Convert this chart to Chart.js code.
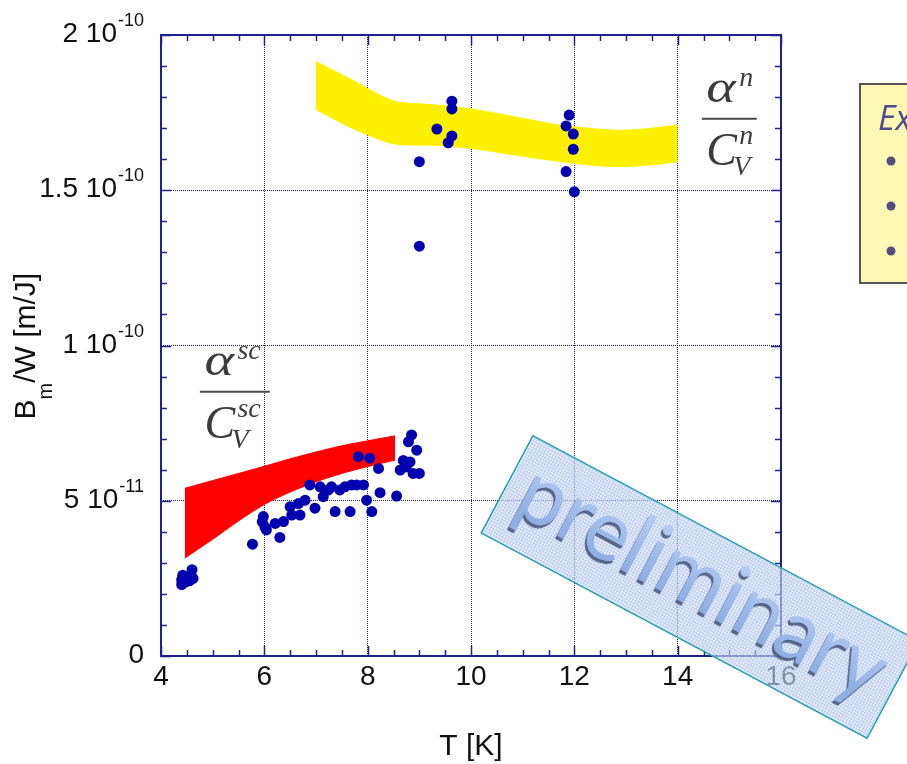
<!DOCTYPE html>
<html>
<head>
<meta charset="utf-8">
<script src="https://cdn.jsdelivr.net/npm/chart.js@4.4.1/dist/chart.umd.min.js"></script>
<style>
  html, body { margin: 0; background: #fff; }
  #graph { display: block; }
</style>
</head>
<body>
<canvas id="graph" width="907" height="764"></canvas>
<script>
// normal state band (alpha^n / C_V^n), T in K, B_m/W in m/J
const normalT     = [7.0, 7.7, 8.5, 9.3, 10.0, 10.9, 11.7, 12.4, 12.9, 13.5, 14.0];
const normalUpper = [1.915e-10, 1.855e-10, 1.788e-10, 1.775e-10, 1.762e-10, 1.735e-10, 1.71e-10, 1.698e-10, 1.693e-10, 1.70e-10, 1.71e-10];
const normalLower = [1.76e-10, 1.70e-10, 1.65e-10, 1.645e-10, 1.635e-10, 1.612e-10, 1.593e-10, 1.58e-10, 1.576e-10, 1.582e-10, 1.592e-10];

// superconducting band (alpha^sc / C_V^sc)
const scT     = [4.46, 5.0, 5.5, 6.0, 6.5, 7.0, 7.5, 8.0, 8.53];
const scUpper = [5.40e-11, 5.65e-11, 5.88e-11, 6.11e-11, 6.35e-11, 6.57e-11, 6.77e-11, 6.93e-11, 7.09e-11];
const scLower = [3.15e-11, 3.76e-11, 4.35e-11, 4.88e-11, 5.28e-11, 5.61e-11, 5.88e-11, 6.10e-11, 6.31e-11];

// measured points
const measT = [
  4.40, 4.40, 4.42, 4.47, 4.50, 4.55, 4.58, 4.60, 4.62,
  5.77, 5.96, 5.98, 6.01, 6.04, 6.21, 6.30, 6.37,
  6.50, 6.53, 6.66, 6.69, 6.79, 6.88, 6.98, 7.08, 7.14, 7.24, 7.30, 7.37,
  7.46, 7.56, 7.66, 7.69, 7.79, 7.82, 7.92, 7.98, 8.04, 8.08, 8.21, 8.24,
  8.56, 8.63, 8.69, 8.75, 8.79, 8.82, 8.85, 8.88, 8.95, 9.00,
  9.00, 9.00, 9.34, 9.63, 9.63, 9.63, 9.56,
  11.90, 11.84, 11.98, 11.98, 11.84, 12.00
];
const measB = [
  2.30e-11, 2.45e-11, 2.60e-11, 2.38e-11, 2.52e-11, 2.42e-11, 2.62e-11, 2.78e-11, 2.50e-11,
  3.60e-11, 4.33e-11, 4.49e-11, 4.16e-11, 4.06e-11, 4.27e-11, 3.82e-11, 4.33e-11,
  4.81e-11, 4.54e-11, 4.91e-11, 4.54e-11, 5.02e-11, 5.51e-11, 4.76e-11, 5.45e-11, 5.13e-11, 5.35e-11, 5.45e-11, 4.65e-11,
  5.35e-11, 5.45e-11, 4.65e-11, 5.51e-11, 5.51e-11, 6.42e-11, 5.51e-11, 5.02e-11, 6.37e-11, 4.65e-11, 6.04e-11, 5.26e-11,
  5.15e-11, 5.99e-11, 6.30e-11, 6.09e-11, 6.90e-11, 6.25e-11, 7.12e-11, 5.88e-11, 6.63e-11, 5.88e-11,
  1.592e-10, 1.320e-10, 1.697e-10, 1.787e-10, 1.762e-10, 1.675e-10, 1.653e-10,
  1.742e-10, 1.707e-10, 1.681e-10, 1.632e-10, 1.560e-10, 1.495e-10
];

// axis ticks
const xTickValues = [4, 6, 8, 10, 12, 14, 16];
const yTickValues = [0, 5e-11, 1e-10, 1.5e-10, 2e-10];
const yTickMantissa = ['0', '5 10', '1 10', '1.5 10', '2 10'];
const yTickExponent = ['', '-11', '-10', '-10', '-10'];

const NAVY = '#20208a';
const SANS = '"Liberation Sans", Arial, sans-serif';
const SERIF = '"Liberation Serif", "Times New Roman", serif';

function xy(xs, ys) {
  return xs.map((x, i) => ({x: x, y: ys[i]}));
}

function drawFraction(ctx, cx, barY, barW, sup) {
  const left = cx - barW / 2 + 4.5;
  ctx.save();
  ctx.fillStyle = '#3c3c3c';
  ctx.strokeStyle = '#4a4a4a';
  ctx.lineWidth = 2;
  ctx.beginPath();
  ctx.moveTo(cx - barW / 2, barY);
  ctx.lineTo(cx + barW / 2, barY);
  ctx.stroke();
  ctx.textAlign = 'left';
  ctx.textBaseline = 'alphabetic';
  ctx.font = 'italic 46px ' + SERIF;
  // the alpha glyph is a bit narrow in this face, widen it
  ctx.save();
  ctx.translate(left, barY - 17);
  ctx.scale(1.22, 1);
  ctx.fillText('\u03b1', 0, 0);
  ctx.restore();
  ctx.fillText('C', left, barY + 46);
  ctx.font = 'italic 28px ' + SERIF;
  ctx.fillText(sup, left + 33, barY - 33);
  ctx.fillText(sup, left + 33, barY + 25);
  ctx.fillText('V', left + 27, barY + 56);
  ctx.restore();
}

function drawStamp(ctx) {
  const cx = 700, cy = 587, w = 437, h = 110;
  const tile = document.createElement('canvas');
  tile.width = 3; tile.height = 3;
  const tc = tile.getContext('2d');
  tc.fillStyle = 'rgba(214,226,248,0.55)';
  tc.fillRect(0, 0, 3, 3);
  tc.fillStyle = 'rgba(150,180,230,0.45)';
  tc.fillRect(0, 0, 3, 1);
  tc.fillRect(0, 0, 1, 3);

  ctx.save();
  ctx.translate(cx, cy);
  ctx.rotate(28 * Math.PI / 180);
  ctx.fillStyle = ctx.createPattern(tile, 'repeat');
  ctx.fillRect(-w / 2, -h / 2, w, h);
  ctx.strokeStyle = '#2a9db3';
  ctx.lineWidth = 1.5;
  ctx.strokeRect(-w / 2, -h / 2, w, h);

  ctx.font = '86px Lato, ' + SANS;
  ctx.textAlign = 'center';
  ctx.textBaseline = 'alphabetic';
  const tw = ctx.measureText('preliminary').width;
  ctx.scale(405 / tw, 1);
  ctx.shadowColor = 'rgba(80,95,130,0.95)';
  ctx.shadowOffsetX = -2;
  ctx.shadowOffsetY = 3;
  ctx.shadowBlur = 1;
  const grad = ctx.createLinearGradient(0, -40, 0, 20);
  grad.addColorStop(0, '#b4cdf2');
  grad.addColorStop(1, '#8eaee2');
  ctx.fillStyle = grad;
  ctx.fillText('preliminary', 0, 22);
  ctx.restore();
}

const axesPlugin = {
  id: 'axesPlugin',
  afterDatasetsDraw(chart) {
    const {ctx, chartArea: a, scales: {x, y}} = chart;
    ctx.save();
    ctx.strokeStyle = NAVY;
    ctx.lineWidth = 2;
    ctx.strokeRect(a.left, a.top, a.right - a.left, a.bottom - a.top);
    ctx.lineWidth = 1.5;
    ctx.beginPath();
    for (let t = x.min; t <= x.max + 1e-9; t += 0.5) {
      const px = Math.round(x.getPixelForValue(t)) + 0.5;
      const len = (Math.abs(t % 2) < 1e-9) ? 10 : 6;
      ctx.moveTo(px, a.bottom); ctx.lineTo(px, a.bottom - len);
      ctx.moveTo(px, a.top); ctx.lineTo(px, a.top + len);
    }
    for (let k = 0; k <= 20; k++) {
      const py = Math.round(y.getPixelForValue(k * 1e-11)) + 0.5;
      const len = (k % 5 === 0) ? 10 : 6;
      ctx.moveTo(a.left, py); ctx.lineTo(a.left + len, py);
      ctx.moveTo(a.right, py); ctx.lineTo(a.right - len, py);
    }
    ctx.stroke();
    ctx.restore();
  },
  afterDraw(chart) {
    const {ctx, chartArea: a, scales: {x, y}} = chart;
    ctx.save();
    ctx.fillStyle = '#111';

    // x tick labels
    ctx.font = '28px ' + SANS;
    ctx.textAlign = 'center';
    ctx.textBaseline = 'alphabetic';
    xTickValues.forEach(v => ctx.fillText(String(v), x.getPixelForValue(v), 685));

    // y tick labels with exponents
    const right = 144;
    yTickValues.forEach((v, i) => {
      const py = y.getPixelForValue(v);
      ctx.textAlign = 'right';
      let edge = right;
      if (yTickExponent[i]) {
        ctx.font = '18px ' + SANS;
        ctx.fillText(yTickExponent[i], edge, py - 9);
        edge -= ctx.measureText(yTickExponent[i]).width + 1;
      }
      ctx.font = '28px ' + SANS;
      ctx.fillText(yTickMantissa[i], edge, py + 7);
    });

    // axis titles
    ctx.font = '30px ' + SANS;
    ctx.textAlign = 'center';
    ctx.fillText('T [K]', (a.left + a.right) / 2, 755);

    ctx.save();
    ctx.translate(35, (a.top + a.bottom) / 2 + 74);
    ctx.rotate(-Math.PI / 2);
    ctx.textAlign = 'left';
    ctx.font = '30px ' + SANS;
    ctx.fillText('B', 0, 0);
    let off = ctx.measureText('B').width;
    ctx.font = '20px ' + SANS;
    ctx.fillText('m', off, 17);
    off += ctx.measureText('m').width;
    ctx.font = '30px ' + SANS;
    ctx.fillText('/W [m/J]', off, 0);
    ctx.restore();
    ctx.restore();

    // band labels
    drawFraction(ctx, x.getPixelForValue(15.0), y.getPixelForValue(1.73e-10), 55, 'n');
    drawFraction(ctx, x.getPixelForValue(5.43), y.getPixelForValue(8.51e-11), 70, 'sc');

    // side note box
    ctx.save();
    ctx.fillStyle = '#fff8b4';
    ctx.strokeStyle = '#555';
    ctx.lineWidth = 2;
    ctx.fillRect(860, 84, 60, 199);
    ctx.strokeRect(860, 84, 60, 199);
    ctx.fillStyle = '#4c4c8a';
    ctx.font = 'italic 34px "Open Sans", ' + SANS;
    ctx.textAlign = 'left';
    ctx.fillText('Ex', 878, 130);
    ctx.fillStyle = '#524f80';
    [161, 206, 251].forEach(by => {
      ctx.beginPath();
      ctx.arc(891, by, 4.5, 0, Math.PI * 2);
      ctx.fill();
    });
    ctx.restore();

    drawStamp(ctx);
  }
};

const gridColor = (lo, hi) => c =>
  (c.tick && c.tick.value > lo + 1e-15 && c.tick.value < hi - 1e-15) ? '#1c1c80' : 'transparent';

new Chart(document.getElementById('graph'), {
  type: 'scatter',
  data: {
    datasets: [
      {
        type: 'line', data: xy(normalT, normalUpper), fill: '+1',
        backgroundColor: '#fdf100', borderColor: '#fdf100', borderWidth: 1,
        pointRadius: 0, tension: 0.3, order: 2
      },
      {
        type: 'line', data: xy(normalT, normalLower), fill: false,
        borderColor: '#fdf100', borderWidth: 1, pointRadius: 0, tension: 0.3, order: 2
      },
      {
        type: 'line', data: xy(scT, scUpper), fill: '+1',
        backgroundColor: '#ff0000', borderColor: '#ff0000', borderWidth: 1,
        pointRadius: 0, tension: 0.3, order: 2
      },
      {
        type: 'line', data: xy(scT, scLower), fill: false,
        borderColor: '#ff0000', borderWidth: 1, pointRadius: 0, tension: 0.3, order: 2
      },
      {
        type: 'scatter', data: xy(measT, measB),
        backgroundColor: '#0000b0', borderWidth: 0, pointRadius: 5.5, order: 0
      }
    ]
  },
  options: {
    responsive: false,
    animation: false,
    devicePixelRatio: 1,
    layout: {padding: {top: 35, right: 126, left: 0, bottom: 0}},
    plugins: {legend: {display: false}, tooltip: {enabled: false}},
    scales: {
      x: {
        type: 'linear', min: 4, max: 16,
        ticks: {display: false, stepSize: 2},
        grid: {color: gridColor(4, 16), lineWidth: 1, drawTicks: false},
        border: {display: false, dash: [1, 1]},
        afterFit: s => { s.height = 108; }
      },
      y: {
        type: 'linear', min: 0, max: 2e-10,
        ticks: {display: false, stepSize: 5e-11},
        grid: {color: gridColor(0, 2e-10), lineWidth: 1, drawTicks: false},
        border: {display: false, dash: [1, 1]},
        afterFit: s => { s.width = 161; }
      }
    }
  },
  plugins: [axesPlugin]
});
</script>
</body>
</html>
